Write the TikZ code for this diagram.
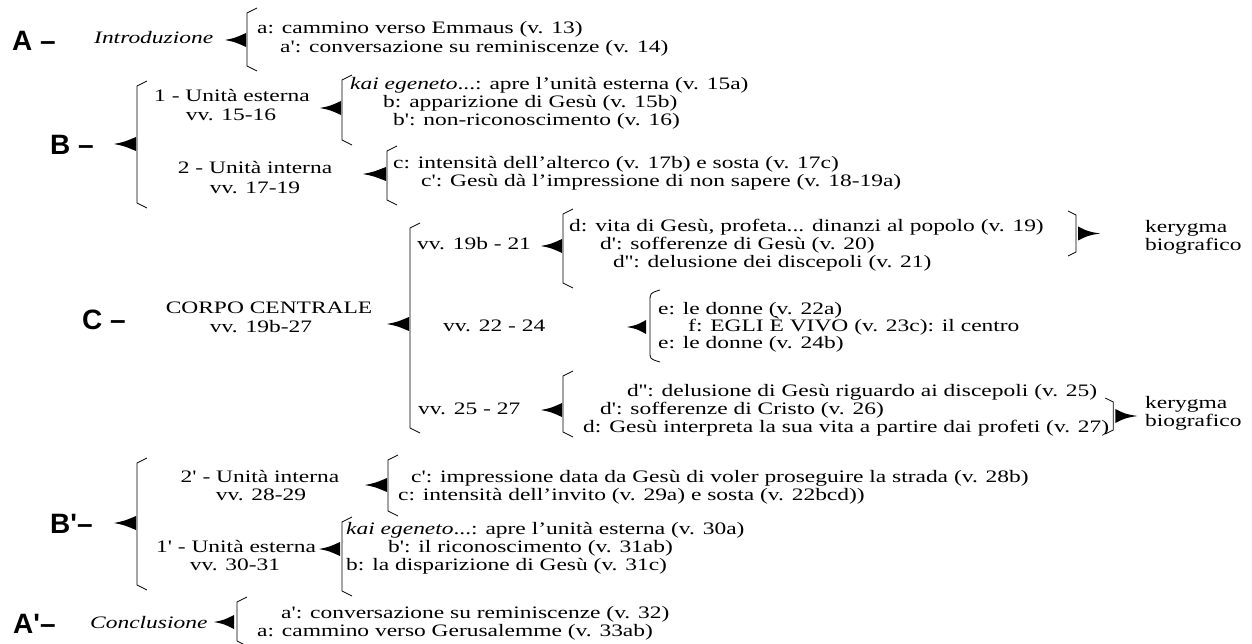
\documentclass[tikz,border=0pt]{standalone}
\usepackage{fontspec}
\setmainfont{Liberation Serif}[FakeStretch=1.34, Ligatures=TeXOff]
\newfontfamily\bigsans{Liberation Sans}[Ligatures=TeXOff]
\usetikzlibrary{calc}
\newcommand\LBrk[3]{\draw[brk] (#1+10,#2-5) -- (#1,#2) -- (#1,#3) -- (#1+10,#3+5);}
\newcommand\LArr[3]{\fill (#1,#3) .. controls (#1+10,#3-2) .. (#2,#3-7) -- (#2,#3+7) .. controls (#1+10,#3+2) .. cycle;}
\newcommand\RPart[3]{% #1 = coordinate name (x of bracket), #2 = top y, #3 = bottom y
  \draw[brk] ($(#1|-0,#2)+(-8,-4)$) -- (#1|-0,#2) -- (#1|-0,#3) -- ++(-8,4);
  \begin{scope}[shift={($(#1|-0,#2)!0.5!(#1|-0,#3)$)}]
    \fill (2,-7) -- (2,7) .. controls (12,2) .. (24,0) .. controls (12,-2) .. cycle;
  \end{scope}}
\begin{document}
\begin{tikzpicture}[x=1pt,y=-1pt,
  txt/.style={anchor=west,inner sep=0pt,font=\fontsize{17.5}{19}\selectfont,text height=12pt,text depth=4pt},
  ctxt/.style={txt,anchor=center},
  big/.style={anchor=west,inner sep=0pt,font=\bigsans\bfseries\fontsize{28}{30}\selectfont},
  brk/.style={line width=0.8pt},
]
\fill[white] (0,0) rectangle (1252,644);
\useasboundingbox (0,0) rectangle (1252,644);

% ---------- A ----------
\node[big] (A) at (12,41) {A –};
\node[txt] (intro) at (94,40) {\itshape Introduzione};
\LArr{225}{246}{40}
\LBrk{247}{13}{66}
\node[txt] (a1) at (257,30) {a: cammino verso Emmaus (v. 13)};
\node[txt] (a2) at (280,49) {a': conversazione su reminiscenze (v. 14)};

% ---------- B ----------
\node[big] (B) at (50,145) {B –};
\LArr{114}{136}{144}
\LBrk{137}{86}{203}
\node[ctxt] (u1) at (232,98) {1 - Unità esterna};
\node[ctxt] (u1v) at (231,117) {vv. 15-16};
\LArr{320}{341}{108}
\LBrk{342}{80}{140}
\node[txt] (kai1) at (350,86) {\textit{kai egeneto}...: apre l’unità esterna (v. 15a)};
\node[txt] (b1) at (383,104) {b: apparizione di Gesù (v. 15b)};
\node[txt] (b2) at (393,122) {b': non-riconoscimento (v. 16)};
\node[ctxt] (u2) at (255,170) {2 - Unità interna};
\node[ctxt] (u2v) at (255,190) {vv. 17-19};
\LArr{363}{386}{174}
\LBrk{387}{151}{200}
\node[txt] (c1) at (393,165) {c: intensità dell’alterco (v. 17b) e sosta (v. 17c)};
\node[txt] (c2) at (421,183) {c': Gesù dà l’impressione di non sapere (v. 18-19a)};

% ---------- C ----------
\node[big] (C) at (82,320) {C –};
\node[ctxt] (corpo) at (269,309) {CORPO CENTRALE};
\node[ctxt] (corpov) at (261,328) {vv. 19b-27};
\LArr{387}{409}{324}
\LBrk{410}{228}{428}

\node[txt] (v1) at (417,246) {vv. 19b - 21};
\LArr{541}{562}{246}
\LBrk{563}{214}{283}
\node[txt] (d1) at (569,228) {d: vita di Gesù, profeta... dinanzi al popolo (v. 19)};
\node[txt] (d2) at (600,246) {d': sofferenze di Gesù (v. 20)};
\node[txt] (d3) at (613,264) {d'': delusione dei discepoli (v. 21)};
\coordinate (rb1) at (1076,0);
\RPart{rb1}{215}{252}
\node[txt] (k1) at (1145,229) {kerygma};
\node[txt] (k1b) at (1145,247) {biografico};

\node[txt] (v2) at (443,327) {vv. 22 - 24};
\LArr{627}{646}{327}
\draw[brk] (660,290) .. controls (650,293) .. (650,302) -- (650,352) .. controls (650,359) .. (660,362);
\node[txt] (e1) at (658,310) {e: le donne (v. 22a)};
\node[txt] (f) at (688,327) {f: EGLI È VIVO (v. 23c): il centro};
\node[txt] (e2) at (658,344) {e: le donne (v. 24b)};

\node[txt] (v3) at (418,410) {vv. 25 - 27};
\LArr{541}{562}{410}
\LBrk{563}{376}{432}
\node[txt] (g1) at (627,392) {d'': delusione di Gesù riguardo ai discepoli (v. 25)};
\node[txt] (g2) at (600,410) {d': sofferenze di Cristo (v. 26)};
\node[txt] (g3) at (583,428) {d: Gesù interpreta la sua vita a partire dai profeti (v. 27)};
\coordinate (rb2) at ([xshift=4pt]g3.east);
\RPart{rb2}{402}{430}
\node[txt] (k2) at (1145,404) {kerygma};
\node[txt] (k2b) at (1145,422) {biografico};

% ---------- B' ----------
\node[big] (Bp) at (50,524) {B'–};
\LArr{114}{136}{523}
\LBrk{137}{463}{585}
\node[ctxt] (u3) at (260,478) {2' - Unità interna};
\node[ctxt] (u3v) at (261,496) {vv. 28-29};
\LArr{365}{387}{485}
\LBrk{388}{460}{511}
\node[txt] (h1) at (411,478) {c': impressione data da Gesù di voler proseguire la strada (v. 28b)};
\node[txt] (h2) at (398,496) {c: intensità dell’invito (v. 29a) e sosta (v. 22bcd))};
\node[ctxt] (u4) at (236,548) {1' - Unità esterna};
\node[ctxt] (u4v) at (235,566) {vv. 30-31};
\LArr{319}{340}{549}
\LBrk{342}{522}{591}
\node[txt] (kai2) at (346,530) {\textit{kai egeneto}...: apre l’unità esterna (v. 30a)};
\node[txt] (i1) at (388,548) {b': il riconoscimento (v. 31ab)};
\node[txt] (i2) at (346,566) {b: la disparizione di Gesù (v. 31c)};

% ---------- A' ----------
\node[big] (Ap) at (13,624) {A'–};
\node[txt] (concl) at (90,624) {\itshape Conclusione};
\LArr{214}{234}{622}
\LBrk{237}{602}{641}
\node[txt] (j1) at (281,614) {a': conversazione su reminiscenze (v. 32)};
\node[txt] (j2) at (257,632) {a: cammino verso Gerusalemme (v. 33ab)};
\end{tikzpicture}
\end{document}
